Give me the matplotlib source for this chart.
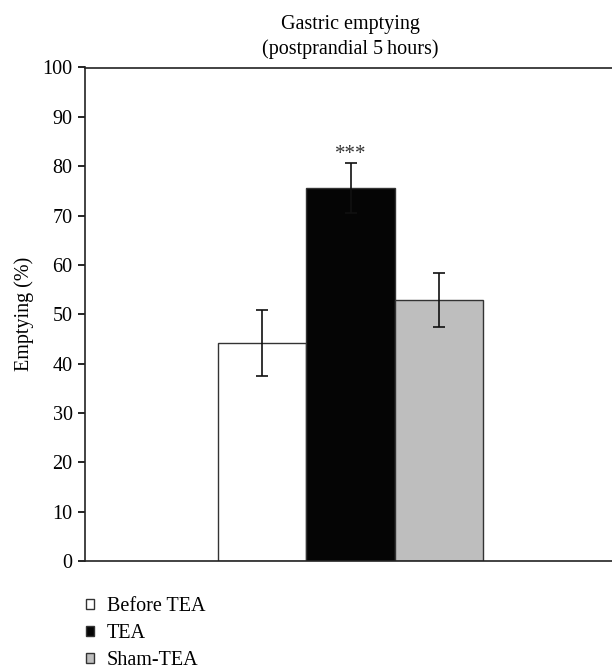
import matplotlib
matplotlib.use("Agg")
import matplotlib.pyplot as plt
from matplotlib.patches import Patch

categories = ["Before TEA", "TEA", "Sham-TEA"]
values = [44.2, 75.6, 52.9]
errors = [6.7, 5.1, 5.4]
colors = ["#ffffff", "#050505", "#bebebe"]
significance = ["", "***", ""]

plt.rcParams['font.family'] = ['Liberation Serif', 'DejaVu Serif']

W, H = 612, 670
fig = plt.figure(figsize=(W / 100, H / 100), dpi=100)
left, right = 85, 616
top, bottom = 67.5, 561
ax = fig.add_axes([left / W, 1 - bottom / H, (right - left) / W, (bottom - top) / H])

x = list(range(len(categories)))
ax.bar(x, values, width=1.0, color=colors, edgecolor="#333333", linewidth=1.0, zorder=2)
ax.errorbar(x, values, yerr=errors, fmt="none", ecolor="#111111", elinewidth=1.2,
            capsize=4, capthick=1.2, zorder=3)
for xi, v, e, s in zip(x, values, errors, significance):
    if s:
        ax.text(xi, v + e + 1.7, s, ha="center", va="center", fontsize=15,
                color="#333333")

ax.set_xlim(-2, 4)
ax.set_ylim(0, 100)
ax.set_yticks(range(0, 101, 10))
ax.set_xticks([])
ax.tick_params(axis="y", direction="out", length=5, width=1.2, labelsize=14.5, pad=4)
for s in ["left", "top", "bottom"]:
    ax.spines[s].set_linewidth(1.2)
    ax.spines[s].set_color("#222222")
ax.spines["right"].set_visible(False)
ax.set_ylabel("Emptying (%)", fontsize=14.5, labelpad=6)
ax.set_title("Gastric emptying\n(postprandial 5\u2009hours)", fontsize=14.5, pad=10,
             linespacing=1.3)

handles = [Patch(facecolor=c, edgecolor="#333333", linewidth=1.0) for c in colors]
fig.legend(handles, categories, loc="upper left", bbox_to_anchor=(86 / W, 1 - 597 / H),
           frameon=False, fontsize=14.5, handlelength=0.42, handleheight=0.42,
           handletextpad=0.6, labelspacing=0.4, borderpad=0, borderaxespad=0)

fig.savefig("out.png", dpi=100)
